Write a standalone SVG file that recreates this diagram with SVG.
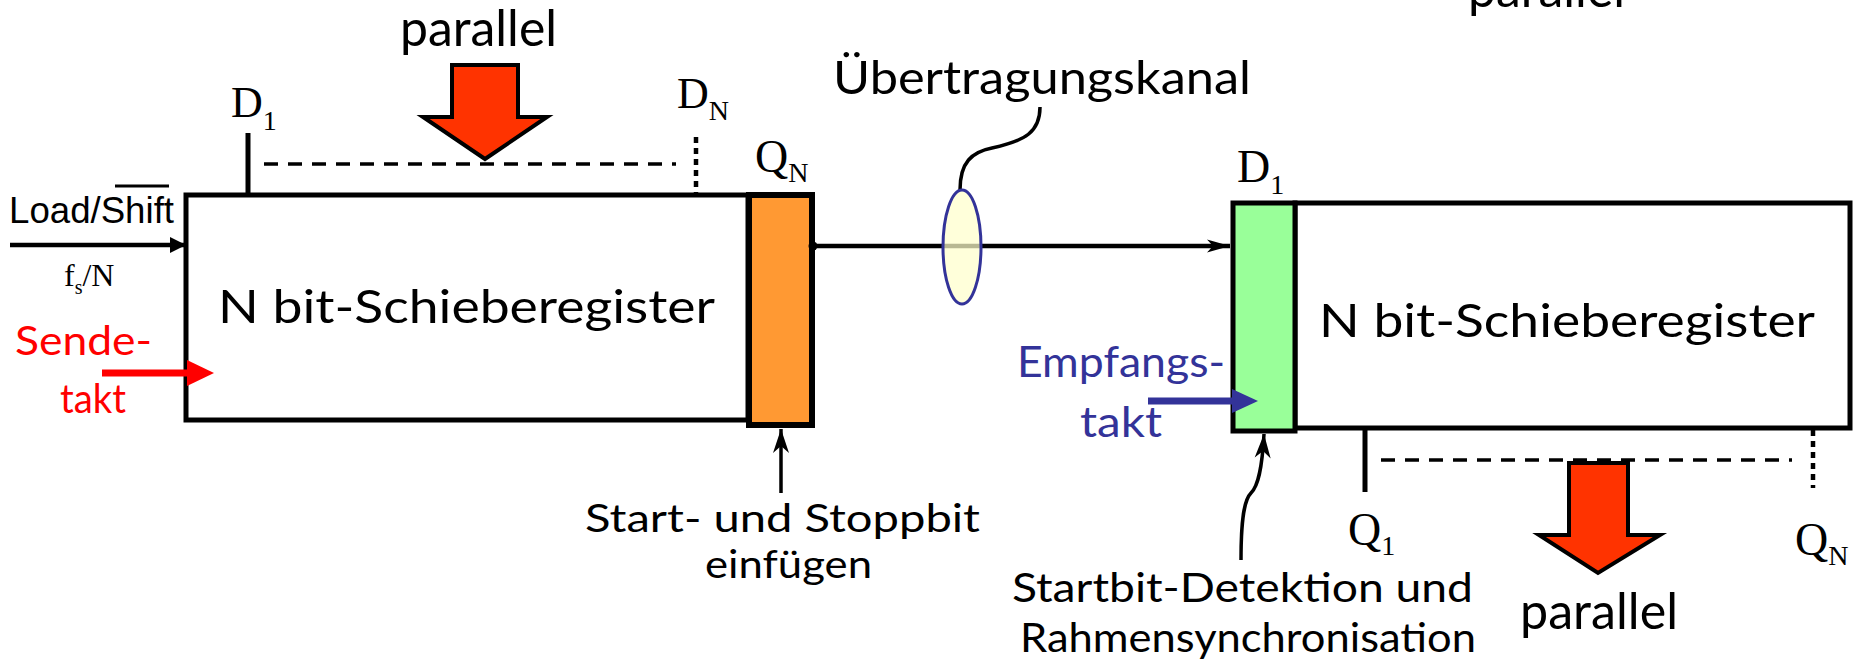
<svg xmlns="http://www.w3.org/2000/svg" width="1854" height="663" viewBox="0 0 1854 663">
<style>
.comic{font-family:Lato,"Noto Sans",sans-serif;fill:#000}
.times{font-family:"Liberation Serif","Times New Roman",serif;fill:#000}
.box{fill:#fff;stroke:#000;stroke-width:5}
.ln{stroke:#000;fill:none}
.big{fill:#ff3300;stroke:#000;stroke-width:4;stroke-linejoin:miter}
</style>
<defs>
<marker id="ahThin" markerUnits="userSpaceOnUse" markerWidth="30" markerHeight="20" viewBox="-26 -10 28 20" refX="0" refY="0" orient="auto">
<path d="M0,0 L-24,-8 L-17,0 L-24,8 Z" fill="#000"/>
</marker>
<marker id="ahBlk" markerUnits="userSpaceOnUse" markerWidth="20" markerHeight="18" viewBox="-18 -9 20 18" refX="0" refY="0" orient="auto">
<path d="M0,0 L-16,-8 L-16,8 Z" fill="#000"/>
</marker>
<marker id="ahChan" markerUnits="userSpaceOnUse" markerWidth="28" markerHeight="16" viewBox="-26 -8 28 16" refX="0" refY="0" orient="auto">
<path d="M0,0 L-23,-6.5 L-17,0 L-23,6.5 Z" fill="#000"/>
</marker>
</defs>

<g id="sender-register">
<rect class="box" x="186" y="195" width="562" height="225"/>
<text class="comic" x="218" y="323" font-size="46" textLength="497" lengthAdjust="spacingAndGlyphs">N bit-Schieberegister</text>
</g>
<g id="start-stop-block">
<rect x="749" y="195" width="63" height="230" fill="#ff9933" stroke="#000" stroke-width="6"/>
</g>
<g id="receiver-register">
<rect class="box" x="1295" y="203" width="555" height="225"/>
<text class="comic" x="1319" y="337" font-size="46" textLength="496" lengthAdjust="spacingAndGlyphs">N bit-Schieberegister</text>
</g>
<g id="startbit-block">
<rect x="1233" y="203" width="62" height="228" fill="#99ff99" stroke="#000" stroke-width="5"/>
</g>

<g id="connectors">
<line class="ln" x1="10" y1="245" x2="186" y2="245" stroke-width="4.5" marker-end="url(#ahBlk)"/>
<line class="ln" x1="814" y1="246" x2="1230" y2="246" stroke-width="4.5" marker-end="url(#ahChan)"/>
<circle cx="813" cy="246" r="4.5" fill="#000"/>
<line class="ln" x1="248" y1="133" x2="248" y2="195" stroke-width="5"/>
<line class="ln" x1="264" y1="164" x2="676" y2="164" stroke-width="3.5" stroke-dasharray="14 10"/>
<line class="ln" x1="696" y1="137" x2="696" y2="195" stroke-width="4.5" stroke-dasharray="6 5"/>
<line class="ln" x1="1365" y1="428" x2="1365" y2="492" stroke-width="5"/>
<line class="ln" x1="1381" y1="460" x2="1792" y2="460" stroke-width="3.5" stroke-dasharray="14 10"/>
<line class="ln" x1="1813" y1="430" x2="1813" y2="488" stroke-width="4.5" stroke-dasharray="6 5"/>
<path class="ln" d="M781 493 L781 429" stroke-width="3.5" marker-end="url(#ahThin)"/>
<path class="ln" d="M1241 560 C1241 520 1244 500 1251 493 C1258 486 1262 470 1264 434" stroke-width="3.5" marker-end="url(#ahThin)"/>
<line x1="102" y1="373" x2="190" y2="373" stroke="#ff0000" stroke-width="7"/>
<path d="M187 360 L214 373 L187 386 Z" fill="#ff0000"/>
<line x1="1148" y1="401" x2="1235" y2="401" stroke="#333399" stroke-width="7"/>
<path d="M1232 389 L1258 401 L1232 413 Z" fill="#333399"/>
<path class="ln" d="M960 190 C960 162 972 152 992 148 C1025 141 1040 132 1040 107" stroke-width="3.5"/>
</g>

<g id="channel">
<ellipse cx="962" cy="247" rx="19" ry="57" fill="#ffffcc" fill-opacity="0.72" stroke="#333399" stroke-width="3"/>
<text class="comic" x="833" y="94" font-size="46" textLength="418" lengthAdjust="spacingAndGlyphs">Übertragungskanal</text>
</g>

<g id="parallel-in">
<path class="big" d="M452 65 L518 65 L518 117 L547 117 L485 159 L423 117 L452 117 Z"/>
<text class="comic" x="400" y="46" font-size="50" textLength="157" lengthAdjust="spacingAndGlyphs">parallel</text>
</g>
<g id="parallel-out">
<path class="big" d="M1569 463 L1628 463 L1628 535 L1660 535 L1598 573 L1539 535 L1569 535 Z"/>
<text class="comic" x="1520" y="629" font-size="50" textLength="158" lengthAdjust="spacingAndGlyphs">parallel</text>
</g>
<g id="parallel-top-right">
<text class="comic" x="1468" y="7" font-size="50" textLength="157" lengthAdjust="spacingAndGlyphs">parallel</text>
</g>

<g id="labels">
<text x="9" y="223" font-family="Liberation Sans, Arial, sans-serif" font-size="36" textLength="165" lengthAdjust="spacingAndGlyphs">Load/Shift</text>
<line x1="115" y1="186" x2="169" y2="186" stroke="#000" stroke-width="3"/>
<text class="times" x="64" y="286" font-size="32">f<tspan font-size="20" dy="8">s</tspan><tspan dy="-8">/N</tspan></text>
<text class="comic" x="15" y="355" font-size="40" style="fill:#ff0000" textLength="137" lengthAdjust="spacingAndGlyphs">Sende-</text>
<text class="comic" x="60" y="413" font-size="40" style="fill:#ff0000" textLength="66" lengthAdjust="spacingAndGlyphs">takt</text>
<text class="comic" x="1017" y="377" font-size="42" style="fill:#333399" textLength="208" lengthAdjust="spacingAndGlyphs">Empfangs-</text>
<text class="comic" x="1080" y="437" font-size="42" style="fill:#333399" textLength="82" lengthAdjust="spacingAndGlyphs">takt</text>
<text class="times" x="231" y="117" font-size="44">D<tspan font-size="28" dy="13">1</tspan></text>
<text class="times" x="677" y="108" font-size="44">D<tspan font-size="28" dy="12">N</tspan></text>
<text class="times" x="755" y="172" font-size="46">Q<tspan font-size="28" dy="10">N</tspan></text>
<text class="times" x="1237" y="182" font-size="46">D<tspan font-size="28" dy="12">1</tspan></text>
<text class="times" x="1348" y="545" font-size="46">Q<tspan font-size="28" dy="10">1</tspan></text>
<text class="times" x="1795" y="555" font-size="46">Q<tspan font-size="28" dy="10">N</tspan></text>
<text class="comic" x="585" y="532" font-size="38" textLength="395" lengthAdjust="spacingAndGlyphs">Start- und Stoppbit</text>
<text class="comic" x="705" y="578" font-size="38" textLength="167" lengthAdjust="spacingAndGlyphs">einfügen</text>
<text class="comic" x="1012" y="602" font-size="40" textLength="461" lengthAdjust="spacingAndGlyphs">Startbit-Detektion und</text>
<text class="comic" x="1020" y="652" font-size="40" textLength="456" lengthAdjust="spacingAndGlyphs">Rahmensynchronisation</text>
</g>
</svg>
